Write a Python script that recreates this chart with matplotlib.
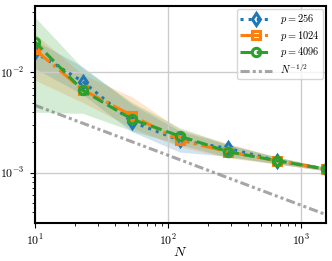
import numpy as np
import matplotlib
matplotlib.use('Agg')
import matplotlib.pyplot as plt

plt.rcParams['font.family'] = 'serif'
plt.rcParams['font.serif'] = ['cmr10', 'DejaVu Serif']
plt.rcParams['mathtext.fontset'] = 'cm'
plt.rcParams['axes.formatter.use_mathtext'] = True

# sample sizes
N = [10, 23, 54, 123, 285, 665, 1540]

# mean errors per p
err_256 = [0.0160, 0.0081, 0.0032, 0.0021, 0.00174, 0.00131, 0.00108]
err_1024 = [0.0170, 0.0067, 0.0037, 0.0021, 0.00161, 0.00131, 0.00108]
err_4096 = [0.0203, 0.0066, 0.0034, 0.00231, 0.00161, 0.00131, 0.00108]

# band lower / upper
lo_256 = [0.0110, 0.0060, 0.00255, 0.0016, 0.00145, 0.00122, 0.00104]
hi_256 = [0.0210, 0.0114, 0.0048, 0.0026, 0.0019, 0.00142, 0.00112]
lo_1024 = [0.0084, 0.0050, 0.0028, 0.0018, 0.00140, 0.00121, 0.00104]
hi_1024 = [0.0245, 0.0095, 0.0057, 0.0027, 0.00195, 0.00143, 0.00113]
lo_4096 = [0.0040, 0.0039, 0.0026, 0.0019, 0.00142, 0.00122, 0.00104]
hi_4096 = [0.0360, 0.0110, 0.0050, 0.0028, 0.00190, 0.00142, 0.00112]

labels = [r'$p = 256$', r'$p = 1024$', r'$p = 4096$']
ref_label = r'$N^{-1/2}$'
ref_const = 0.0149

fig = plt.figure(figsize=(3.32, 2.61), dpi=100)
ax = fig.add_axes([0.104, 0.146, 0.878, 0.831])

series = [
    (err_256, lo_256, hi_256, 'tab:blue', ':', 'd'),
    (err_1024, lo_1024, hi_1024, 'tab:orange', '-.', 's'),
    (err_4096, lo_4096, hi_4096, 'tab:green', '--', 'o'),
]
for (y, lo, hi, c, ls, m), lab in zip(series, labels):
    ax.fill_between(N, lo, hi, color=c, alpha=0.2, lw=0)
for (y, lo, hi, c, ls, m), lab in zip(series, labels):
    ax.plot(N, y, color=c, ls=ls, lw=2.2, marker=m, ms=6,
            mfc='none', mew=2.2, label=lab)

Nr = np.array([N[0], N[-1]], dtype=float)
ax.plot(Nr, ref_const / np.sqrt(Nr), color='gray', alpha=0.7, lw=2.2,
        ls=(0, (3, 1, 1, 1, 1, 1)), label=ref_label)

ax.set_xscale('log')
ax.set_yscale('log')
ax.set_xlim(10, 1540)
ax.set_ylim(3.14e-4, 0.046)
ax.grid(True, which='major', color='#cccccc', lw=1)
ax.set_xlabel(r'$N$', fontsize=10, labelpad=-1)
ax.tick_params(labelsize=8.5)
for s in ax.spines.values():
    s.set_linewidth(1.5)
ax.legend(loc='upper right', fontsize=7.5, handlelength=3, borderpad=0.3,
          labelspacing=0.25, handletextpad=0.8, borderaxespad=0.3)

fig.savefig('out.png', dpi=100)
